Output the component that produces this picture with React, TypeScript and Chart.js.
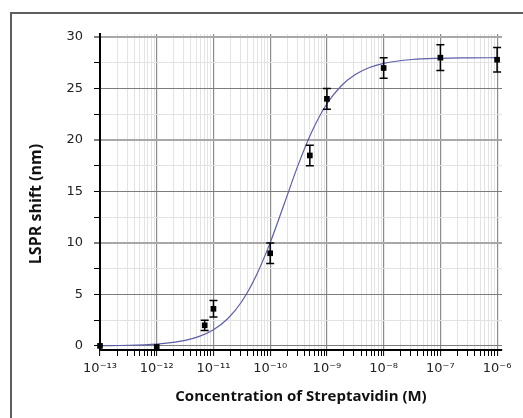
import React, { useEffect, useRef } from 'react';
import { Chart, registerables } from 'chart.js';

Chart.register(...registerables);

// Tick labels
const X_DECADES = [-13, -12, -11, -10, -9, -8, -7, -6];
const X_TICK_LABELS = ['10⁻¹³', '10⁻¹²', '10⁻¹¹', '10⁻¹⁰', '10⁻⁹', '10⁻⁸', '10⁻⁷', '10⁻⁶'];
const Y_TICK_VALUES = [0, 2.5, 5, 7.5, 10, 12.5, 15, 17.5, 20, 22.5, 25, 27.5, 30];

const X_TITLE = 'Concentration of Streptavidin (M)';
const Y_TITLE = 'LSPR shift (nm)';

// Measured data (concentration in M, LSPR shift in nm)
const CONC = [1e-13, 1e-12, 7e-12, 1e-11, 1e-10, 5e-10, 1e-9, 1e-8, 1e-7, 1e-6];
const SHIFT = [0, -0.1, 2.0, 3.6, 9.0, 18.5, 24.0, 27.0, 28.0, 27.8];
const SHIFT_ERR = [0, 0, 0.5, 0.8, 1.0, 1.0, 1.0, 1.0, 1.25, 1.2];

// Fitted curve (log10 concentration, shift)
const FIT_LOG_CONC = [-13, -12.5, -12, -11.75, -11.5, -11.25, -11, -10.75, -10.5, -10.25, -10, -9.75, -9.5, -9.25, -9, -8.75, -8.5, -8.25, -8, -7.5, -7, -6.5, -6];
const FIT_SHIFT = [0.02, 0.06, 0.18, 0.31, 0.53, 0.92, 1.57, 2.64, 4.31, 6.78, 10.03, 13.84, 17.68, 20.99, 23.52, 25.25, 26.36, 27.04, 27.44, 27.82, 27.94, 27.98, 28.0];

const isDecade = (v: number) => {
  const l = Math.log10(v);
  return Math.abs(l - Math.round(l)) < 1e-6;
};

export default function App() {
  const ref = useRef<HTMLCanvasElement>(null);

  useEffect(() => {
    const canvas = ref.current;
    if (!canvas) return;

    const errorBars = {
      id: 'errorBars',
      afterDatasetsDraw(chart: any) {
        const { ctx, scales } = chart;
        const x = scales.x;
        const y = scales.y;
        ctx.save();
        ctx.strokeStyle = '#000';
        ctx.lineWidth = 1.5;
        CONC.forEach((c, i) => {
          const e = SHIFT_ERR[i];
          if (!e) return;
          const px = x.getPixelForValue(c);
          const yt = y.getPixelForValue(SHIFT[i] + e);
          const yb = y.getPixelForValue(SHIFT[i] - e);
          ctx.beginPath();
          ctx.moveTo(px, yt);
          ctx.lineTo(px, yb);
          ctx.moveTo(px - 4, yt);
          ctx.lineTo(px + 4, yt);
          ctx.moveTo(px - 4, yb);
          ctx.lineTo(px + 4, yb);
          ctx.stroke();
        });
        ctx.restore();
      },
    };

    const yTitle = {
      id: 'yTitle',
      afterDraw(chart: any) {
        const { ctx, chartArea } = chart;
        ctx.save();
        ctx.translate(36, (chartArea.top + chartArea.bottom) / 2 + 12);
        ctx.rotate(-Math.PI / 2);
        ctx.font = 'bold 16px "Open Sans"';
        ctx.textAlign = 'center';
        ctx.textBaseline = 'middle';
        ctx.fillStyle = '#111';
        ctx.fillText(Y_TITLE, 0, 0);
        ctx.restore();
      },
    };

    const xTickValues: number[] = [];
    for (let d = -13; d < -6; d++) {
      for (let m = 1; m <= 9; m++) xTickValues.push(Number(`${m}e${d}`));
    }
    xTickValues.push(1e-6);

    const chart = new Chart(canvas, {
      type: 'scatter',
      data: {
        datasets: [
          {
            type: 'line',
            data: FIT_LOG_CONC.map((l, i) => ({ x: Math.pow(10, l), y: FIT_SHIFT[i] })),
            borderColor: '#5b5ea8',
            borderWidth: 1.2,
            pointRadius: 0,
            cubicInterpolationMode: 'monotone',
            fill: false,
            order: 2,
          } as any,
          {
            data: CONC.map((c, i) => ({ x: c, y: SHIFT[i] })),
            pointStyle: 'rect',
            pointRadius: 4,
            backgroundColor: '#000',
            borderColor: '#000',
            borderWidth: 0,
            clip: false,
            order: 1,
          } as any,
        ],
      },
      options: {
        animation: false,
        responsive: false,
        events: [],
        layout: { padding: { left: 0, top: 34, right: 21, bottom: 0 } },
        plugins: { legend: { display: false }, tooltip: { enabled: false } },
        scales: {
          x: {
            type: 'logarithmic',
            min: 1e-13,
            max: 1.22e-6,
            afterBuildTicks: (s: any) => {
              s.ticks = xTickValues.map((v) => ({ value: v, major: isDecade(v) }));
            },
            afterFit: (s: any) => {
              s.height = 68;
            },
            ticks: {
              autoSkip: false,
              maxRotation: 0,
              minRotation: 0,
              padding: 5,
              color: '#222',
              font: { family: 'DejaVu Sans', size: 13 },
              callback: (value: any) => {
                const v = Number(value);
                if (!isDecade(v)) return '';
                const i = X_DECADES.indexOf(Math.round(Math.log10(v)));
                return i >= 0 ? X_TICK_LABELS[i] : '';
              },
            },
            grid: {
              color: (c: any) => (c.tick && isDecade(c.tick.value) ? '#8c8c8c' : '#e3e3e3'),
              lineWidth: (c: any) => (c.tick && isDecade(c.tick.value) ? 1.2 : 1),
              tickColor: '#000',
              tickLength: 6,
              tickWidth: 1,
            },
            border: { color: '#000', width: 2 },
            title: {
              display: true,
              text: X_TITLE,
              color: '#111',
              font: { family: 'Open Sans', size: 15, weight: 'bold' },
              padding: { top: 0, bottom: 12 },
            },
          },
          y: {
            type: 'linear',
            min: -0.4,
            max: 30.3,
            afterBuildTicks: (s: any) => {
              s.ticks = Y_TICK_VALUES.map((v) => ({ value: v }));
            },
            afterFit: (s: any) => {
              s.width = 100;
            },
            ticks: {
              autoSkip: false,
              padding: 11,
              color: '#222',
              font: { family: 'DejaVu Sans', size: 13 },
              callback: (value: any) => (Number(value) % 5 === 0 ? String(value) : ''),
            },
            grid: {
              color: (c: any) => {
                const v = c.tick ? c.tick.value : 0;
                if (v % 10 === 0 && v !== 0) return '#a8a8a8';
                if (v % 5 === 0) return '#7c7c7c';
                return '#e2e2e2';
              },
              lineWidth: (c: any) => {
                const v = c.tick ? c.tick.value : 0;
                return v % 10 === 0 && v !== 0 ? 2 : 1;
              },
              tickColor: '#000',
              tickLength: 6,
              tickWidth: 1,
            },
            border: { color: '#000', width: 2 },
          },
        },
      },
      plugins: [errorBars, yTitle],
    } as any);

    return () => chart.destroy();
  }, []);

  return (
    <div style={{ position: 'absolute', left: 0, top: 0, width: 523, height: 418, background: '#fff', overflow: 'hidden' }}>
      <div
        style={{
          position: 'absolute',
          left: 10,
          top: 12,
          width: 600,
          height: 500,
          borderLeft: '2px solid #5e5e5e',
          borderTop: '2px solid #5e5e5e',
        }}
      />
      <canvas ref={ref} width={523} height={418} style={{ position: 'absolute', left: 0, top: 0 }} />
    </div>
  );
}
